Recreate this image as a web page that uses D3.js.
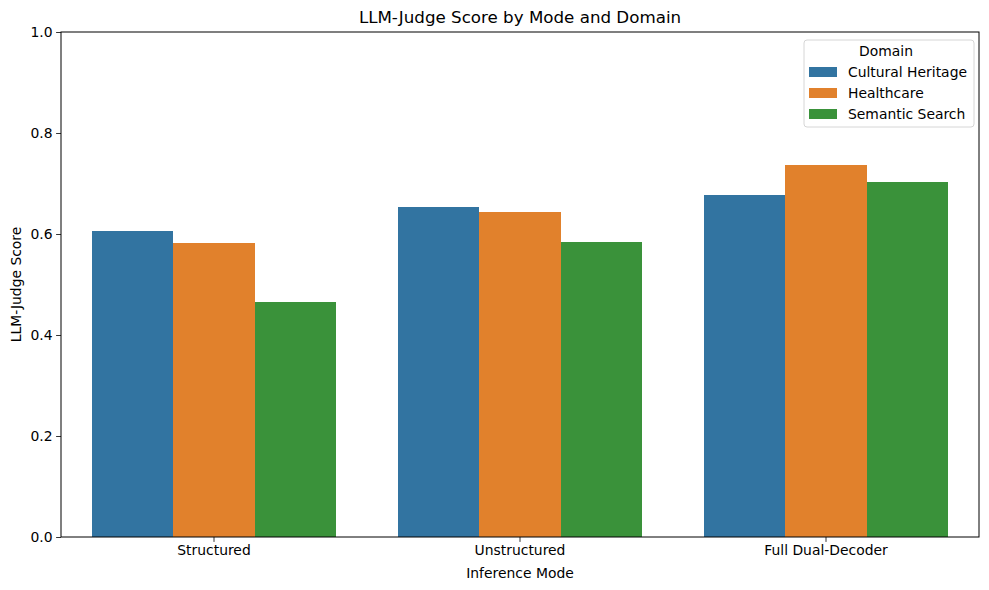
<!DOCTYPE html>
<html>
<head>
<meta charset="utf-8">
<script src="https://cdn.jsdelivr.net/npm/d3@7"></script>
<style>
body { margin: 0; background: #fff; }
text { font-family: "DejaVu Sans", sans-serif; fill: #000; }
</style>
</head>
<body>
<svg></svg>
<script>
// data
var modes = ['Structured', 'Unstructured', 'Full Dual-Decoder'];
var domains = ['Cultural Heritage', 'Healthcare', 'Semantic Search'];
var culturalHeritage = [0.606, 0.653, 0.677];
var healthcare = [0.582, 0.644, 0.737];
var semanticSearch = [0.465, 0.584, 0.703];
var yTicks = [0, 0.2, 0.4, 0.6, 0.8, 1.0];
var colors = ['#3274a1', '#e1812c', '#3a923a'];

var series = [culturalHeritage, healthcare, semanticSearch];

var svgWidth = 989, svgHeight = 590;
// note: "top" is reserved on window, so use plot* names
var plotLeft = 61, plotRight = 979, plotTop = 32, plotBottom = 537;

var svg = d3.select('svg')
.attr('width', svgWidth)
.attr('height', svgHeight);

var xScale = d3.scaleBand()
.domain(modes)
.range([plotLeft, plotRight]);

var inner = d3.scaleBand()
.domain(domains)
.range([0, xScale.bandwidth() * 0.8]);

var yScale = d3.scaleLinear()
.domain([0, 1])
.range([plotBottom, plotTop]);

// bars
domains.forEach(function(dom, j) {
  svg.append('g')
  .selectAll('rect')
  .data(series[j])
  .enter()
  .append('rect')
  .attr('x', function(d, i) { return xScale(modes[i]) + xScale.bandwidth() * 0.1 + inner(dom); })
  .attr('y', function(d) { return yScale(d); })
  .attr('width', inner.bandwidth())
  .attr('height', function(d) { return yScale(0) - yScale(d); })
  .attr('fill', colors[j])
  .attr('shape-rendering', 'crispEdges');
});

var x_axis = d3.axisBottom(xScale).tickSize(4.9).tickPadding(3.5).tickSizeOuter(0);
var y_axis = d3.axisLeft(yScale).tickValues(yTicks).tickFormat(d3.format('.1f')).tickSize(4.9).tickPadding(3.5).tickSizeOuter(0);

var gx = svg.append('g')
.attr('transform', 'translate(0,' + plotBottom + ')')
.call(x_axis);

var gy = svg.append('g')
.attr('transform', 'translate(' + plotLeft + ',0)')
.call(y_axis);

[gx, gy].forEach(function(g) {
  g.select('.domain').remove();
  g.selectAll('text').style('font-size', '13.9px').attr('fill', '#000');
  g.selectAll('line').attr('stroke', '#000').attr('stroke-width', 0.8);
});

// frame
svg.append('rect')
.attr('x', plotLeft).attr('y', plotTop)
.attr('width', plotRight - plotLeft).attr('height', plotBottom - plotTop)
.attr('fill', 'none').attr('stroke', '#000').attr('stroke-width', 1);

svg.append('text')
.attr('x', (plotLeft + plotRight) / 2).attr('y', 23)
.attr('text-anchor', 'middle')
.style('font-size', '16.7px')
.text('LLM-Judge Score by Mode and Domain');

svg.append('text')
.attr('x', (plotLeft + plotRight) / 2).attr('y', 578)
.attr('text-anchor', 'middle')
.style('font-size', '13.9px')
.text('Inference Mode');

svg.append('text')
.attr('transform', 'translate(21,' + (plotTop + plotBottom) / 2 + ') rotate(-90)')
.attr('text-anchor', 'middle')
.style('font-size', '13.9px')
.text('LLM-Judge Score');

// legend
var lg = svg.append('g').attr('transform', 'translate(804,40)');
lg.append('rect')
.attr('width', 170).attr('height', 87).attr('rx', 3)
.attr('fill', '#fff').attr('fill-opacity', 0.8)
.attr('stroke', '#ccc').attr('stroke-width', 0.8);
lg.append('text')
.attr('x', 82).attr('y', 16)
.attr('text-anchor', 'middle')
.style('font-size', '13.9px')
.text('Domain');
domains.forEach(function(dom, j) {
  lg.append('rect')
  .attr('x', 5).attr('y', 27 + j * 21)
  .attr('width', 28).attr('height', 10)
  .attr('fill', colors[j]);
  lg.append('text')
  .attr('x', 44).attr('y', 37 + j * 21)
  .style('font-size', '13.9px')
  .text(dom);
});
</script>
</body>
</html>
